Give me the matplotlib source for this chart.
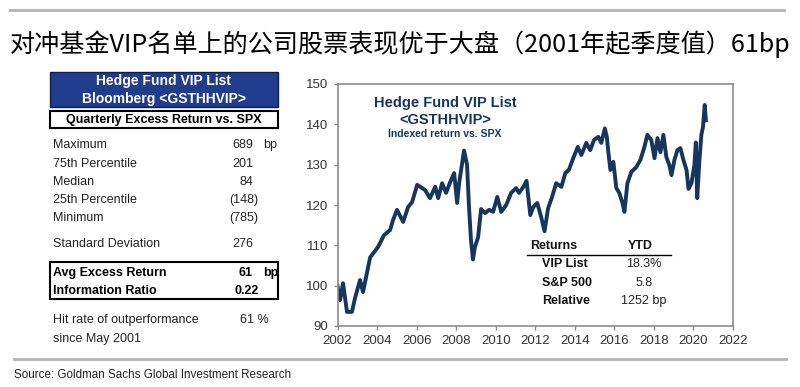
import matplotlib
matplotlib.use("Agg")
import matplotlib.pyplot as plt
from matplotlib.patches import Rectangle
from matplotlib.lines import Line2D

# Hedge Fund VIP list, indexed return vs. SPX
years = [2002.00, 2002.13, 2002.28, 2002.48, 2002.73, 2002.89, 2003.14, 2003.29, 2003.65,
         2004.05, 2004.35, 2004.66, 2004.81, 2005.01, 2005.32, 2005.57, 2005.77, 2006.03,
         2006.43, 2006.68, 2006.94, 2007.09, 2007.29, 2007.49, 2007.70, 2007.90, 2008.05,
         2008.15, 2008.40, 2008.55, 2008.65, 2008.75, 2008.85, 2008.95, 2009.11, 2009.26,
         2009.47, 2009.67, 2009.87, 2010.08, 2010.28, 2010.53, 2010.78, 2011.03, 2011.18,
         2011.40, 2011.56, 2011.75, 2011.90, 2012.10, 2012.30, 2012.47, 2012.65, 2012.85,
         2013.06, 2013.32, 2013.52, 2013.70, 2013.92, 2014.15, 2014.33, 2014.58, 2014.78,
         2014.97, 2015.19, 2015.34, 2015.52, 2015.62, 2015.70, 2015.80, 2015.95, 2016.10,
         2016.25, 2016.41, 2016.51, 2016.66, 2016.86, 2017.11, 2017.32, 2017.52, 2017.67,
         2017.87, 2018.03, 2018.18, 2018.33, 2018.48, 2018.63, 2018.78, 2018.89, 2019.04,
         2019.19, 2019.34, 2019.49, 2019.65, 2019.75, 2019.90, 2020.05, 2020.12, 2020.19,
         2020.30, 2020.40, 2020.48, 2020.57, 2020.63]
index_vals = [100.0, 96.4, 100.6, 93.5, 93.5, 97.0, 101.4, 98.4, 107.0,
              109.6, 112.5, 113.8, 116.3, 118.8, 115.8, 119.5, 120.7, 125.0,
              123.7, 121.7, 124.5, 121.7, 125.4, 123.0, 125.7, 127.9, 120.5,
              125.4, 133.5, 130.0, 119.5, 111.3, 106.5, 109.6, 112.0, 119.0,
              118.0, 118.8, 118.3, 122.0, 118.3, 120.0, 123.0, 124.2, 123.0,
              124.5, 126.0, 117.5, 119.5, 120.5, 117.0, 113.5, 119.2, 122.0,
              125.4, 124.5, 127.9, 128.7, 131.6, 134.4, 132.4, 135.4, 133.6,
              136.1, 136.9, 135.4, 139.0, 136.9, 132.9, 128.7, 130.7, 124.2,
              123.0, 120.5, 118.3, 125.4, 128.2, 129.4, 131.2, 134.4, 137.4,
              136.1, 131.6, 136.6, 133.1, 137.4, 131.9, 129.9, 127.4, 131.2,
              133.6, 134.1, 131.2, 128.7, 124.0, 125.4, 130.0, 135.5, 121.7,
              131.0, 137.4, 139.3, 144.8, 141.0]

stat_labels = ["Maximum", "75th Percentile", "Median", "25th Percentile", "Minimum"]
stat_values = ["689", "201", "84", "(148)", "(785)"]
ret_rows = ["VIP List", "S&P 500", "Relative"]
ret_ytd = ["18.3%", "5.8", "1252 bp"]

W, H = 800, 387
fig = plt.figure(figsize=(W / 100, H / 100), dpi=100)

def fx(x):
    return x / W

def fy(y):
    return 1 - y / H

def txt(x, y, s, **kw):
    kw.setdefault("family", "Liberation Sans")
    kw.setdefault("va", "center")
    fig.text(fx(x), fy(y), s, **kw)

navy = "#17365d"
grey = "#b3b3b3"

# top / bottom rules
fig.add_artist(Line2D([fx(10), fx(784)], [fy(10), fy(10)], color=grey, lw=2))
fig.add_artist(Line2D([fx(14), fx(786)], [fy(359), fy(359)], color=grey, lw=2))

fig.text(fx(10), fy(44), "对冲基金VIP名单上的公司股票表现优于大盘（2001年起季度值）61bp",
         family=["Noto Sans CJK SC", "DejaVu Sans"], fontsize=18.1, va="center", color="black")
txt(14, 375, "Source: Goldman Sachs Global Investment Research", fontsize=8.4, color="#222222")

# left stats panel
fig.add_artist(Rectangle((fx(50), fy(107)), fx(228), 35 / H, facecolor="#203c8c",
                         edgecolor="#0d1f4f", lw=1))
txt(164, 81, "Hedge Fund VIP List", fontsize=10, weight="bold", color="white", ha="center")
txt(164, 99, "Bloomberg <GSTHHVIP>", fontsize=10, weight="bold", color="white", ha="center")
fig.add_artist(Rectangle((fx(50), fy(128)), fx(228), 17 / H, facecolor="white",
                         edgecolor="black", lw=1.5))
txt(164, 120, "Quarterly Excess Return vs. SPX", fontsize=9, weight="bold", ha="center")

row_y = [145, 164, 182, 200, 218]
for lab, val, y in zip(stat_labels, stat_values, row_y):
    txt(53, y, lab, fontsize=9, color="#222222")
    right = 258 if val.startswith("(") else 253
    txt(right, y, val, fontsize=9, color="#222222", ha="right")
txt(263, 145, "bp", fontsize=9, color="#222222")
txt(53, 244, "Standard Deviation", fontsize=9, color="#222222")
txt(253, 244, "276", fontsize=9, color="#222222", ha="right")

fig.add_artist(Rectangle((fx(50), fy(299)), fx(228), 37 / H, facecolor="none",
                         edgecolor="black", lw=1.5))
txt(53, 273, "Avg Excess Return", fontsize=9, weight="bold")
txt(253, 273, "61", fontsize=9, weight="bold", ha="right")
txt(263, 273, "bp", fontsize=9, weight="bold")
txt(53, 291, "Information Ratio", fontsize=9, weight="bold")
txt(259, 291, "0.22", fontsize=9, weight="bold", ha="right")

txt(53, 320, "Hit rate of outperformance", fontsize=9, color="#222222")
txt(240, 320, "61 %", fontsize=9, color="#222222")
txt(53, 339, "since May 2001", fontsize=9, color="#222222")

# chart
ax = fig.add_axes([fx(337.5), fy(326), (733 - 337.5) / W, (326 - 84) / H])
ax.plot(years, index_vals, color=navy, lw=2.8, solid_joinstyle="round")
ax.set_xlim(2002, 2022)
ax.set_ylim(90, 150)
ax.set_xticks(range(2002, 2023, 2))
ax.set_yticks(range(90, 151, 10))
for sp in ax.spines.values():
    sp.set_color("#8c8c8c")
    sp.set_linewidth(1.2)
ax.tick_params(colors="#8c8c8c", length=3, width=1, labelcolor="#333333", labelsize=9.5)
for lab in ax.get_xticklabels() + ax.get_yticklabels():
    lab.set_family("Liberation Sans")

txt(445, 103, "Hedge Fund VIP List", fontsize=10.5, weight="bold", color=navy, ha="center")
txt(445, 120, "<GSTHHVIP>", fontsize=10.5, weight="bold", color=navy, ha="center")
txt(445, 134, "Indexed return vs. SPX", fontsize=7.5, weight="bold", color=navy, ha="center")

txt(530, 246, "Returns", fontsize=9, weight="bold", color="#111111")
txt(640, 246, "YTD", fontsize=9, weight="bold", color="#111111", ha="center")
fig.add_artist(Line2D([fx(527), fx(671)], [fy(255), fy(255)], color="black", lw=1))
for lab, val, y in zip(ret_rows, ret_ytd, [264, 283, 301]):
    txt(542, y, lab, fontsize=9, weight="bold", color="#111111")
    txt(644, y, val, fontsize=9, color="#222222", ha="center")

fig.savefig("out.png", dpi=100)
